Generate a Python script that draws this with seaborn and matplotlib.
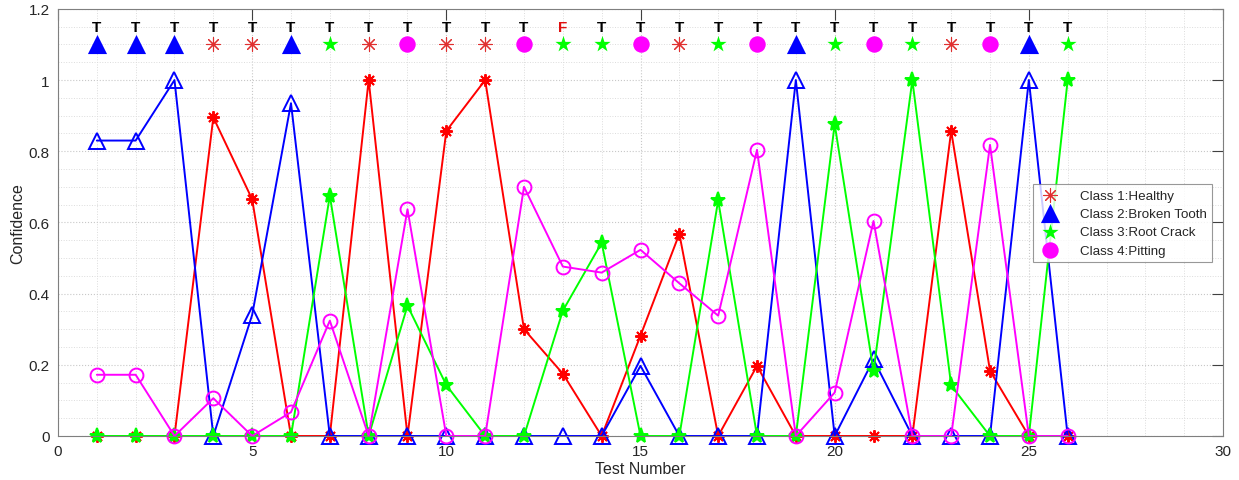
import matplotlib
matplotlib.use("Agg")
import matplotlib.pyplot as plt
import seaborn as sns
import pandas as pd

# === Data ===
tests = list(range(1, 27))

healthy = [0, 0, 0, 0.895, 0.665, 0, 0, 1.0, 0, 0.857, 1.0, 0.30, 0.175,
           0, 0.282, 0.568, 0, 0.197, 0, 0, 0, 0, 0.857, 0.183, 0, 0]
broken_tooth = [0.83, 0.83, 1.0, 0, 0.34, 0.935, 0, 0, 0, 0, 0, 0, 0,
                0, 0.197, 0, 0, 0, 1.0, 0, 0.215, 0, 0, 0, 1.0, 0]
root_crack = [0, 0, 0, 0, 0, 0, 0.675, 0, 0.366, 0.143, 0, 0, 0.352,
              0.543, 0, 0, 0.662, 0, 0, 0.876, 0.182, 1.0, 0.142, 0, 0, 1.0]
pitting = [0.172, 0.172, 0, 0.106, 0, 0.067, 0.324, 0, 0.637, 0, 0, 0.70, 0.476,
           0.459, 0.523, 0.429, 0.338, 0.804, 0, 0.122, 0.604, 0, 0, 0.818, 0, 0]

# predicted class per test (1..4) and whether it was right
predicted = [2, 2, 2, 1, 1, 2, 3, 1, 4, 1, 1, 4, 3, 3, 4, 1, 3, 4, 2, 3, 4, 3, 1, 4, 2, 3]
verdict = ["T"] * 12 + ["F"] + ["T"] * 13

class_names = ["Class 1:Healthy", "Class 2:Broken Tooth",
               "Class 3:Root Crack", "Class 4:Pitting"]

df = pd.DataFrame({"Test": tests, "C1": healthy, "C2": broken_tooth,
                   "C3": root_crack, "C4": pitting})

# === Style ===
sns.set_style("white")
plt.rcParams["font.family"] = ["Liberation Sans", "DejaVu Sans"]

RED, BLUE, GREEN, MAGENTA = "#ff0000", "#0000ff", "#00ff00", "#ff00ff"
ASTERISK = (8, 2, 0)
ROW_MARK = 1.1
ROW_TEXT = 1.15

fig = plt.figure(figsize=(12.39, 4.81), dpi=100)
ax = fig.add_axes([0.0468, 0.0915, 0.9403, 0.888])

# === confidence lines ===
line_specs = [
    ("C1", RED, ASTERISK, 9, RED),
    ("C2", BLUE, "^", 11, "none"),
    ("C3", GREEN, "*", 11, GREEN),
    ("C4", MAGENTA, "o", 10, "none"),
]
for col, color, marker, ms, face in line_specs:
    sns.lineplot(data=df, x="Test", y=col, ax=ax, color=color, linewidth=1.4,
                 marker=marker, markersize=ms, markerfacecolor=face,
                 markeredgecolor=color, markeredgewidth=1.4, clip_on=False,
                 legend=False)

# === predicted class row ===
pred_specs = {
    1: ("#e03030", ASTERISK, 95),
    2: (BLUE, "^", 190),
    3: (GREEN, "*", 150),
    4: (MAGENTA, "o", 140),
}
for cls in [1, 2, 3, 4]:
    xs = [t for t, p in zip(tests, predicted) if p == cls]
    color, marker, size = pred_specs[cls]
    if marker == ASTERISK:
        sns.scatterplot(x=xs, y=[ROW_MARK] * len(xs), ax=ax, marker=marker, s=size,
                        color=color, linewidth=0.8, label=class_names[cls - 1])
    else:
        sns.scatterplot(x=xs, y=[ROW_MARK] * len(xs), ax=ax, marker=marker, s=size,
                        color=color, edgecolor=color, linewidth=0,
                        label=class_names[cls - 1])

for t, v in zip(tests, verdict):
    ax.text(t, ROW_TEXT, v, ha="center", va="center", fontsize=11,
            fontweight="bold", color="black" if v == "T" else "#e01010")

# === axes, ticks, grid ===
ax.set_xlim(0, 30)
ax.set_ylim(0, 1.2)
ax.set_xticks(range(0, 31, 5))
ax.set_yticks([0, 0.2, 0.4, 0.6, 0.8, 1.0, 1.2])
ax.set_yticklabels(["0", "0.2", "0.4", "0.6", "0.8", "1", "1.2"])
ax.set_xticks(range(0, 31), minor=True)
ax.set_yticks([i * 0.05 for i in range(25)], minor=True)
ax.grid(True, which="major", color="#c8c8c8", linestyle=":", linewidth=0.8)
ax.grid(True, which="minor", color="#dcdcdc", linestyle=":", linewidth=0.7)
ax.set_axisbelow(True)
ax.tick_params(which="major", direction="in", length=8, width=0.8,
               top=True, right=True, colors="#404040", labelsize=11,
               labelcolor="#262626", pad=6)
ax.tick_params(which="minor", length=0)
for s in ax.spines.values():
    s.set_color("#7f7f7f")
    s.set_linewidth(0.8)

ax.set_xlabel("Test Number", fontsize=11.5, color="#262626", labelpad=2)
ax.set_ylabel("Confidence", fontsize=11.5, color="#262626", labelpad=2)

# === Legend ===
leg = ax.legend(loc="upper right", bbox_to_anchor=(0.9905, 0.59), fontsize=9.6,
                frameon=True, fancybox=False, edgecolor="#7f7f7f",
                labelspacing=0.45, handletextpad=1.3, borderpad=0.4,
                handlelength=1.8, borderaxespad=0)
leg.get_frame().set_linewidth(0.8)

fig.savefig("out.png", dpi=100)
